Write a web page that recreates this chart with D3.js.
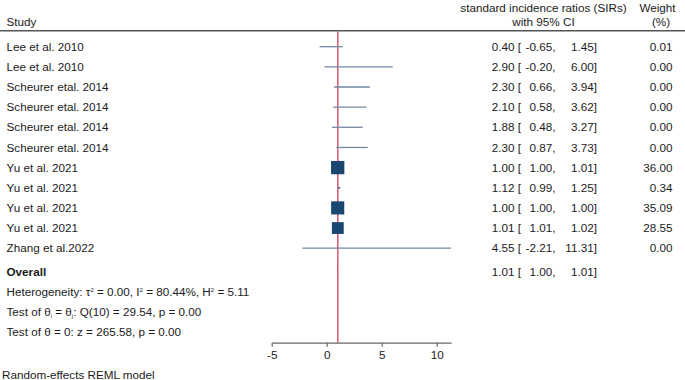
<!DOCTYPE html>
<html>
<head>
<meta charset="utf-8">
<script src="https://cdn.jsdelivr.net/npm/d3@7"></script>
<style>
  body { margin: 0; background: #fff; }
  svg { display: block; font-family: "Liberation Sans", Arial, sans-serif; }
</style>
</head>
<body>
<div id="chart"></div>
<script>
// study rows
const studies = ["Lee et al. 2010", "Lee et al. 2010", "Scheurer etal. 2014", "Scheurer etal. 2014",
  "Scheurer etal. 2014", "Scheurer etal. 2014", "Yu et al. 2021", "Yu et al. 2021",
  "Yu et al. 2021", "Yu et al. 2021", "Zhang et al.2022"];
const estimates = [0.40, 2.90, 2.30, 2.10, 1.88, 2.30, 1.00, 1.12, 1.00, 1.01, 4.55];
const lower = [-0.65, -0.20, 0.66, 0.58, 0.48, 0.87, 1.00, 0.99, 1.00, 1.01, -2.21];
const upper = [1.45, 6.00, 3.94, 3.62, 3.27, 3.73, 1.01, 1.25, 1.00, 1.02, 11.31];
const weights = [0.01, 0.00, 0.00, 0.00, 0.00, 0.00, 36.00, 0.34, 35.09, 28.55, 0.00];
const overall = { est: 1.01, lo: 1.00, hi: 1.01 };
const tickValues = [-5, 0, 5, 10];

const width = 685, height = 380;
const fs = 11.7;
const textColor = "#1b1b1b";
const navy = "#1a476f";
const ciColor = "#7088a2";

const svg = d3.select("#chart").append("svg")
  .attr("width", width)
  .attr("height", height);

const x = d3.scaleLinear().domain([-5, 11.31]).range([271.7, 451.1]);
const rowY = d3.scaleLinear().domain([0, 10]).range([46.7, 248.2]);
const size = d3.scaleSqrt().domain([0, 36]).range([0, 13.3]);

const axisY = 342.7, topY = 30.7;
const overallY = 271.5;

// header
const header = svg.append("g").attr("fill", textColor).style("font-size", fs + "px");
header.append("text").attr("x", 6.5).attr("y", 22).attr("dy", "0.35em").text("Study");
header.append("text").attr("x", 543.5).attr("y", 7.5).attr("dy", "0.35em")
  .attr("text-anchor", "middle").text("standard incidence ratios (SIRs)");
header.append("text").attr("x", 543.5).attr("y", 22).attr("dy", "0.35em")
  .attr("text-anchor", "middle").text("with 95% CI");
header.append("text").attr("x", 657.5).attr("y", 7.5).attr("dy", "0.35em")
  .attr("text-anchor", "middle").text("Weight");
header.append("text").attr("x", 661).attr("y", 22).attr("dy", "0.35em")
  .attr("text-anchor", "middle").text("(%)");

svg.append("line")
  .attr("x1", 0).attr("x2", width)
  .attr("y1", topY).attr("y2", topY)
  .attr("stroke", "#555").attr("stroke-width", 1.5);

// reference line at overall estimate
svg.append("line")
  .attr("x1", x(overall.est)).attr("x2", x(overall.est))
  .attr("y1", topY + 0.8).attr("y2", axisY)
  .attr("stroke", "#c9405c").attr("stroke-width", 1.3);

const rows = svg.append("g");
studies.forEach((s, i) => {
  const y = rowY(i);
  rows.append("line")
    .attr("x1", x(lower[i])).attr("x2", x(upper[i]))
    .attr("y1", y).attr("y2", y)
    .attr("stroke", ciColor).attr("stroke-width", 1.3);
  const sz = size(weights[i]);
  if (sz > 0) {
    rows.append("rect")
      .attr("x", x(estimates[i]) - sz / 2)
      .attr("y", y - sz / 2)
      .attr("width", sz).attr("height", sz)
      .attr("fill", navy);
  }
});

// overall diamond (tiny)
svg.append("path")
  .attr("d", `M${x(overall.lo)},${overallY} L${x(overall.est)},${overallY - 4} L${x(overall.hi)},${overallY} L${x(overall.est)},${overallY + 4}Z`)
  .attr("fill", navy);

// text columns
const txt = svg.append("g").attr("fill", textColor).style("font-size", fs + "px");
const f = d => d.toFixed(2);
function effectRow(y, e, lo, hi) {
  txt.append("text").attr("x", 521).attr("y", y).attr("dy", "0.35em").attr("text-anchor", "end").text(f(e) + " [");
  txt.append("text").attr("x", 555.5).attr("y", y).attr("dy", "0.35em").attr("text-anchor", "end").text(f(lo) + ",");
  txt.append("text").attr("x", 597).attr("y", y).attr("dy", "0.35em").attr("text-anchor", "end").text(f(hi) + "]");
}
studies.forEach((s, i) => {
  const y = rowY(i);
  txt.append("text").attr("x", 6.5).attr("y", y).attr("dy", "0.35em").text(s);
  effectRow(y, estimates[i], lower[i], upper[i]);
  txt.append("text").attr("x", 672.5).attr("y", y).attr("dy", "0.35em").attr("text-anchor", "end").text(f(weights[i]));
});

txt.append("text").attr("x", 6.5).attr("y", overallY).attr("dy", "0.35em")
  .attr("font-weight", "bold").text("Overall");
effectRow(overallY, overall.est, overall.lo, overall.hi);

// heterogeneity lines
const het = txt.append("text").attr("x", 6.5).attr("y", 292.3).attr("dy", "0.35em");
het.append("tspan").text("Heterogeneity: τ");
het.append("tspan").attr("dy", -4.5).style("font-size", "6px").text("2");
het.append("tspan").attr("dy", 4.5).text(" = 0.00, I");
het.append("tspan").attr("dy", -4.5).style("font-size", "6px").text("2");
het.append("tspan").attr("dy", 4.5).text(" = 80.44%, H");
het.append("tspan").attr("dy", -4.5).style("font-size", "6px").text("2");
het.append("tspan").attr("dy", 4.5).text(" = 5.11");

const t1 = txt.append("text").attr("x", 6.5).attr("y", 312).attr("dy", "0.35em");
t1.append("tspan").text("Test of θ");
t1.append("tspan").attr("dy", 2).style("font-size", "6px").text("i");
t1.append("tspan").attr("dy", -2).text(" = θ");
t1.append("tspan").attr("dy", 2).style("font-size", "6px").text("j");
t1.append("tspan").attr("dy", -2).text(": Q(10) = 29.54, p = 0.00");

txt.append("text").attr("x", 6.5).attr("y", 331.5).attr("dy", "0.35em")
  .text("Test of θ = 0: z = 265.58, p = 0.00");

txt.append("text").attr("x", 2).attr("y", 375).attr("dy", "0.35em")
  .text("Random-effects REML model");

// axis
const axis = svg.append("g")
  .attr("transform", `translate(0,${axisY})`)
  .call(d3.axisBottom(x).tickValues(tickValues).tickSize(4).tickSizeOuter(0).tickFormat(d => String(d)));
axis.select(".domain").attr("stroke", "#666").attr("stroke-width", 1.2);
axis.selectAll(".tick line").attr("stroke", "#666").attr("stroke-width", 1.2);
axis.selectAll(".tick text")
  .attr("fill", textColor)
  .attr("y", 8)
  .style("font-size", fs + "px")
  .style("font-family", "\"Liberation Sans\", Arial, sans-serif");
</script>
</body>
</html>
